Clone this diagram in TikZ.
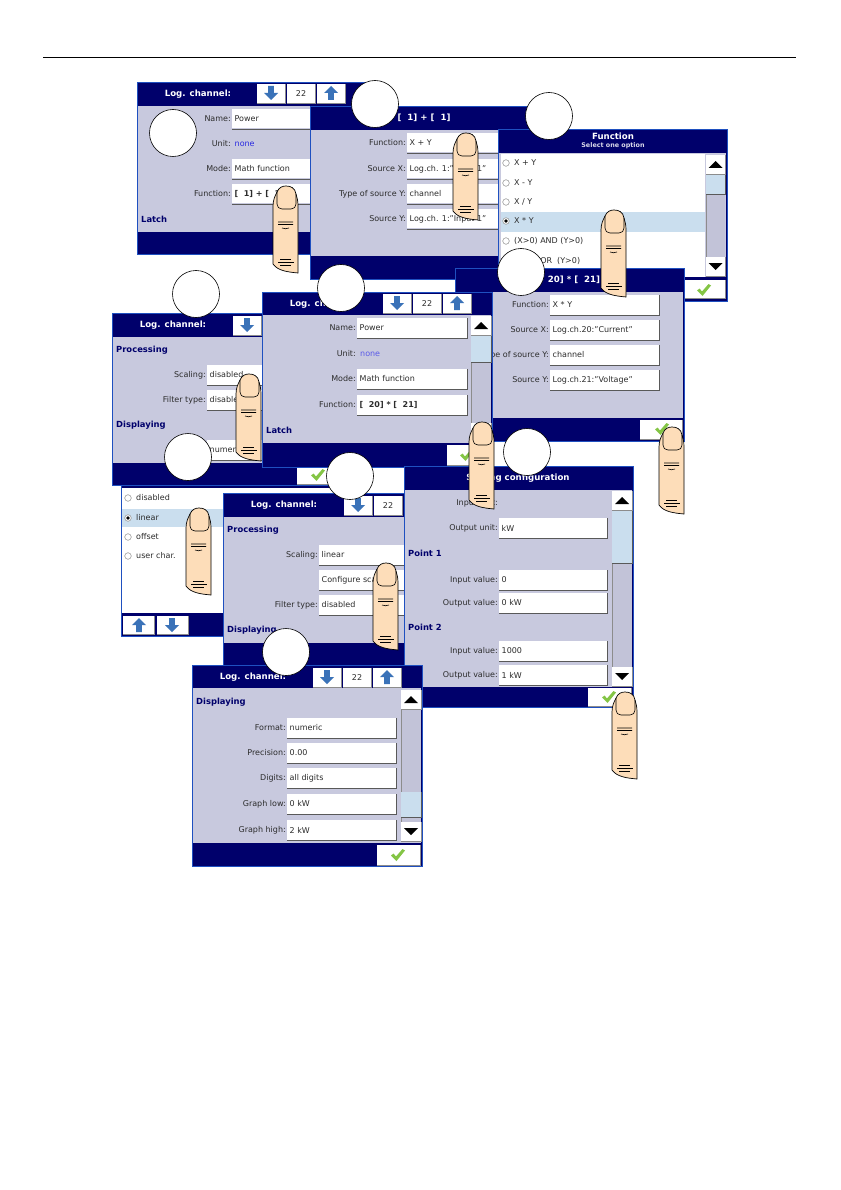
\documentclass[tikz,border=0pt]{standalone}
\usepackage{fontspec}
\setmainfont{DejaVu Sans}
\definecolor{navy}{HTML}{00006B}
\definecolor{edgeblue}{HTML}{1F50C0}
\definecolor{lav}{HTML}{C8C9DE}
\definecolor{track}{HTML}{C2C3D8}
\definecolor{thumb}{HTML}{CADEEE}
\definecolor{arrowblue}{HTML}{3A72B8}
\definecolor{skin}{HTML}{FDDDB9}
\definecolor{txt}{HTML}{2C2C2C}
\definecolor{unitblue}{HTML}{2A2AE0}
\definecolor{unitbluelt}{HTML}{5A5AE8}
\definecolor{okgreen}{HTML}{84C545}
\newcounter{nn}
\newcommand{\nid}{n\arabic{nn}}
\newcommand{\nxt}{\stepcounter{nn}}
\tikzset{
  x=1pt,y=-1pt,
  paneloutline/.style={fill=navy,draw=edgeblue,line width=0.8pt},
  panelbody/.style={fill=lav,draw=none},
  fieldbox/.style={fill=white,draw=none},
  shadowline/.style={draw=black!65,line width=0.8pt},
  labeltext/.style={inner sep=0pt,anchor=east,text=txt,font=\fontsize{8}{9}\selectfont},
  valuetext/.style={inner sep=0pt,anchor=west,text=txt,font=\fontsize{8}{9}\selectfont},
  headtext/.style={inner sep=0pt,anchor=west,text=navy,font=\fontsize{8.4}{9}\selectfont\bfseries},
  titletext/.style={inner sep=0pt,text=white,font=\fontsize{8.6}{9}\selectfont\bfseries},
  subtitletext/.style={inner sep=0pt,text=white!85!navy,font=\fontsize{6.4}{7}\selectfont\bfseries},
  numtext/.style={inner sep=0pt,text=txt,font=\fontsize{8}{9}\selectfont},
  bubble/.style={circle,fill=white,draw=black,line width=0.6pt,minimum size=47pt,inner sep=0pt},
  fingerskin/.style={fill=skin,draw=black,line width=0.7pt},
  crease/.style={draw=black,line width=0.6pt},
}
% x1,y1,x2,y2,title bottom,bar top
\newcommand{\pnl}[6]{%
  \filldraw[paneloutline] (#1,#2) rectangle (#3,#4);
  \fill[panelbody] (#1+1,#5) rectangle (#3-1,#6);
}
\newcommand{\vt}[4][txt]{\nxt\node[valuetext,text=#1] (\nid) at (#2,#3) {#4};}
\newcommand{\fld}[4]{% x,ytop,w,text
  \fill[fieldbox] (#1,#2) rectangle (#1+#3,#2+19.5);
  \draw[shadowline] (#1,#2+20) -- (#1+#3,#2+20) -- (#1+#3,#2);
  \vt{#1+2.5}{#2+10}{#4}
}
\newcommand{\lab}[3]{\nxt\node[labeltext] (\nid) at (#1,#2) {#3};}
\newcommand{\hdg}[3]{\nxt\node[headtext] (\nid) at (#1,#2) {#3};}
\newcommand{\ttl}[3]{\nxt\node[titletext] (\nid) at (#1,#2) {#3};}
\newcommand{\btn}[4]{% x1,y1,x2,y2
  \fill[white] (#1,#2) rectangle (#3,#4);
  \draw[black!45,line width=0.5pt] (#1,#4) -- (#3,#4) -- (#3,#2);
}
\newcommand{\numb}[3]{\nxt\node[numtext] (\nid) at (#1,#2) {#3};}
\newcommand{\dnarrow}[2]{\fill[arrowblue] (#1-2.8,#2-7)--(#1+2.8,#2-7)--(#1+2.8,#2)--(#1+7,#2)--(#1,#2+7)--(#1-7,#2)--(#1-2.8,#2)--cycle;}
\newcommand{\uparw}[2]{\fill[arrowblue] (#1-2.8,#2+7)--(#1+2.8,#2+7)--(#1+2.8,#2)--(#1+7,#2)--(#1,#2-7)--(#1-7,#2)--(#1-2.8,#2)--cycle;}
\newcommand{\chk}[2]{\fill[okgreen] (#1-7,#2+0.5)--(#1-4.5,#2-1.5)--(#1-2,#2+1.5)--(#1+4.5,#2-6)--(#1+7,#2-4.5)--(#1-1.5,#2+6)--cycle;}
\newcommand{\trio}[2]{% x of first button, y top: down / 22 / up
  \btn{#1}{#2}{#1+28}{#2+19}\dnarrow{#1+14}{#2+9}
  \btn{#1+30}{#2}{#1+58}{#2+19}\numb{#1+44}{#2+10}{22}
  \btn{#1+60}{#2}{#1+88}{#2+19}\uparw{#1+74}{#2+9}
}
\newcommand{\scrollbar}[6]{% x1,x2,ytop,ybot,thumbtop,thumbbot
  \fill[track] (#1,#3) rectangle (#2,#4);
  \draw[black!45,line width=0.5pt] (#1,#3) -- (#1,#4);
  \fill[thumb] (#1,#5) rectangle (#2,#6);
  \draw[black!65,line width=0.6pt] (#1,#6) -- (#2,#6) -- (#2,#5);
  \btn{#1}{#3}{#2}{#3+19}
  \fill[black] ({(#1+#2)/2-7},#3+13)--({(#1+#2)/2+7},#3+13)--({(#1+#2)/2},#3+6)--cycle;
  \btn{#1}{#4-19}{#2}{#4}
  \fill[black] ({(#1+#2)/2-7},#4-13)--({(#1+#2)/2+7},#4-13)--({(#1+#2)/2},#4-6)--cycle;
}
\newcommand{\radio}[3]{% x,y,selected?
  \draw[black!45,fill=white,line width=0.5pt] (#1,#2) circle (3.3);
  \ifnum#3=1 \fill[black] (#1,#2) circle (1.9);\fi
}
\newcommand{\finger}[2]{%
  \begin{scope}[shift={(#1,#2)}]
    \filldraw[fingerskin] (0,78) -- (0,20) .. controls (0,14) and (2,10) .. (4,6)
      .. controls (6,1) and (10,0) .. (13,0) .. controls (18,0) and (22,2) .. (23,8)
      .. controls (24,12) and (25,14) .. (25,20) -- (25,87)
      .. controls (15,86) and (5,85) .. (0,78) -- cycle;
    \draw[crease] (4,6) -- (4,18) .. controls (4,21) and (6,23) .. (9,23) -- (18,23)
      .. controls (21,23) and (23,21) .. (23,18) -- (23,8);
    \draw[crease] (5,36) -- (20,36) (5,38.5) -- (20,38.5) (9,42) .. controls (11,43) and (14,43) .. (16,42);
    \draw[crease] (7,73) -- (18,73) (5,76) -- (21,76) (7,79) -- (18,79);
  \end{scope}
}
\newcommand{\bub}[2]{\nxt\node[bubble] (\nid) at (#1,#2) {};}
\begin{document}
\begin{tikzpicture}
\useasboundingbox (0,0) rectangle (840,1190);
\fill[white] (0,0) rectangle (840,1190);
\draw[black,line width=0.6pt] (43,57) -- (796,57);

% panel 1
\pnl{137}{82}{366}{254}{106}{232}
\ttl{198}{94}{Log. channel:}
\trio{257}{84}
\lab{231}{119}{Name:}\fld{232}{109}{109}{Power}
\lab{231}{144}{Unit:}\vt[unitblue]{234.5}{144}{none}
\lab{231}{169}{Mode:}\fld{232}{159}{109}{Math function}
\lab{231}{194}{Function:}\fld{232}{184}{109}{\bfseries [\ \ 1] + [\ \ 1]}
\hdg{141}{219}{Latch}

% panel 2
\pnl{310}{106}{539}{279}{130}{256}
\ttl{424}{118}{[\ \ 1] + [\ \ 1]}
\lab{406}{143}{Function:}\fld{407}{133}{109}{X + Y}
\lab{406}{169}{Source X:}\fld{407}{159}{109}{Log.ch. 1:"Input 1"}
\lab{406}{194}{Type of source Y:}\fld{407}{184}{109}{channel}
\lab{406}{219}{Source Y:}\fld{407}{209}{109}{Log.ch. 1:"Input 1"}

% panel 3
\pnl{498}{129}{727}{301}{153}{277}
\fill[white] (501,154) rectangle (705,277);
\fill[thumb] (501,212) rectangle (705,232);
\ttl{613}{136}{Function}
\nxt\node[subtitletext] (\nid) at (613,146) {Select one option};
\radio{506}{163}{0}\vt{514}{163}{X + Y}
\radio{506}{183}{0}\vt{514}{183}{X - Y}
\radio{506}{202}{0}\vt{514}{202}{X / Y}
\radio{506}{221}{1}\vt{514}{221}{X * Y}
\radio{506}{241}{0}\vt{514}{241}{(X>0) AND (Y>0)}
\radio{506}{261}{0}\vt{514}{261}{(X>0) OR\ \ (Y>0)}
\scrollbar{706}{725}{155}{276}{174}{194}
\btn{684}{280}{725}{298}\chk{704}{290}

% panel 6
\pnl{455}{268}{684}{441}{292}{418}
\ttl{569}{280}{[\ \ 20] * [\ \ 21]}
\lab{549}{305}{Function:}\fld{550}{295}{109}{X * Y}
\lab{549}{330}{Source X:}\fld{550}{320}{109}{Log.ch.20:"Current"}
\lab{549}{355}{Type of source Y:}\fld{550}{345}{109}{channel}
\lab{549}{380}{Source Y:}\fld{550}{370}{109}{Log.ch.21:"Voltage"}
\btn{640}{420}{682}{439}\chk{662}{429}

% panel 8 (option list)
\pnl{121}{470}{341}{636}{488}{613}
\fill[white] (122,488) rectangle (341,613);
\fill[thumb] (122,509) rectangle (341,527);
\radio{128}{498}{0}\vt{136}{498}{disabled}
\radio{128}{518}{1}\vt{136}{518}{linear}
\radio{128}{537}{0}\vt{136}{537}{offset}
\radio{128}{556}{0}\vt{136}{556}{user char.}
\btn{123}{616}{154}{634}\uparw{139}{625}
\btn{157}{616}{188}{634}\dnarrow{172}{625}

% panel 4
\pnl{112}{313}{341}{485}{337}{463}
\ttl{173}{325}{Log. channel:}
\btn{233}{316}{261}{335}\dnarrow{247}{325}
\hdg{116}{350}{Processing}
\lab{206}{375}{Scaling:}\fld{207}{365}{109}{disabled}
\lab{206}{400}{Filter type:}\fld{207}{390}{109}{disabled}
\hdg{116}{425}{Displaying}
\lab{206}{450}{Format:}\fld{207}{440}{109}{numeric}
\btn{297}{466}{339}{484}\chk{318}{475}

% panel 5
\pnl{262}{292}{492}{467}{315}{443}
\ttl{323}{304}{Log. channel:}
\trio{383}{294}
\lab{356}{328}{Name:}\fld{357}{318}{110}{Power}
\lab{356}{354}{Unit:}\vt[unitbluelt]{360}{354}{none}
\lab{356}{379}{Mode:}\fld{357}{369}{110}{Math function}
\lab{356}{405}{Function:}\fld{357}{395}{110}{\bfseries [\ \ 20] * [\ \ 21]}
\hdg{266}{430}{Latch}
\scrollbar{471}{491}{316}{442}{336}{362}
\btn{447}{445}{490}{465}\chk{467}{455}

% panel 9
\pnl{223}{493}{452}{665}{517}{643}
\ttl{284}{505}{Log. channel:}
\trio{344}{496}
\hdg{227}{530}{Processing}
\lab{318}{555}{Scaling:}\fld{319}{545}{109}{linear}
\fld{319}{570}{109}{Configure scaling}
\lab{318}{605}{Filter type:}\fld{319}{595}{109}{disabled}
\hdg{227}{630}{Displaying}

% panel 7
\pnl{404}{466}{633}{707}{490}{687}
\ttl{518}{478}{Scaling configuration}
\lab{498}{503}{Input unit:}
\lab{498}{528}{Output unit:}\fld{499}{518}{108}{kW}
\hdg{408}{553}{Point 1}
\lab{498}{580}{Input value:}\fld{499}{570}{108}{0}
\lab{498}{603}{Output value:}\fld{499}{593}{108}{0 kW}
\hdg{408}{627}{Point 2}
\lab{498}{651}{Input value:}\fld{499}{641}{108}{1000}
\lab{498}{675}{Output value:}\fld{499}{665}{108}{1 kW}
\scrollbar{612}{632}{491}{686}{510}{563}
\btn{588}{688}{631}{706}\chk{609}{697}

% panel 10
\pnl{192}{665}{422}{866}{688}{843}
\ttl{253}{677}{Log. channel:}
\trio{313}{668}
\hdg{196}{702}{Displaying}
\lab{286}{728}{Format:}\fld{287}{718}{109}{numeric}
\lab{286}{753}{Precision:}\fld{287}{743}{109}{0.00}
\lab{286}{778}{Digits:}\fld{287}{768}{109}{all digits}
\lab{286}{804}{Graph low:}\fld{287}{794}{109}{0 kW}
\lab{286}{830}{Graph high:}\fld{287}{820}{109}{2 kW}
\scrollbar{401}{421}{690}{841}{792}{817}
\btn{377}{845}{420}{865}\chk{398}{855}

% fingers
\finger{273}{186}
\finger{453}{133}
\finger{601}{210}
\finger{236}{374}
\finger{469}{422}
\finger{659}{427}
\finger{186}{508}
\finger{373}{563}
\finger{612}{692}

% step markers
\bub{173}{133}
\bub{375}{104}
\bub{549}{116}
\bub{196}{294}
\bub{341}{288}
\bub{521}{272}
\bub{188}{457}
\bub{350}{476}
\bub{527}{452}
\bub{286}{652}
\end{tikzpicture}
\end{document}
